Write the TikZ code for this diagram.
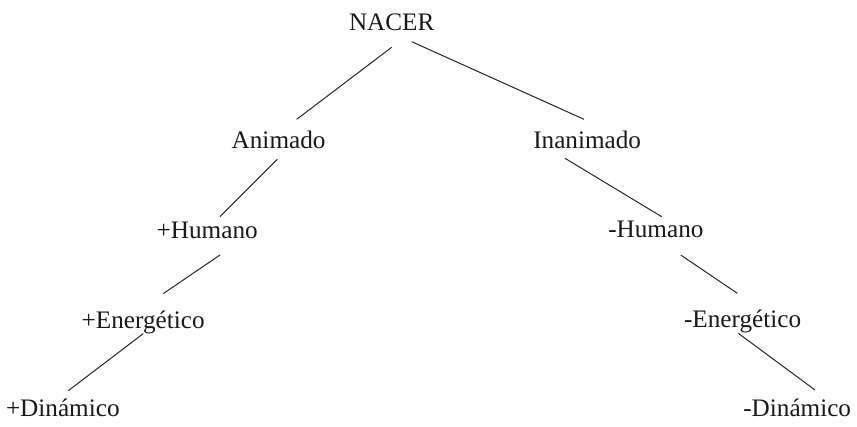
\documentclass[tikz,border=0pt]{standalone}
\usepackage{fontspec}
\setmainfont{Liberation Serif}
\usetikzlibrary{calc}
\begin{document}
\begin{tikzpicture}[x=1pt,y=1pt,
  lbl/.style={anchor=base west,inner sep=0pt,outer sep=0pt,font=\fontsize{25.2}{30}\selectfont,text=black!90},
  edge/.style={line width=1pt,draw=black!85}]
\useasboundingbox (0,0) rectangle (857,-427);
\node[lbl] (nacer) at (349,-30.7) {NACER};
\node[lbl] (animado) at (231.7,-148.3) {Animado};
\node[lbl] (inanimado) at (533.3,-148.3) {Inanimado};
\node[lbl] (humP) at (156.7,-238.3) {+Humano};
\node[lbl] (humM) at (608.3,-237.8) {-Humano};
\node[lbl] (eneP) at (81.7,-328.3) {+Energético};
\node[lbl] (eneM) at (684,-327.3) {-Energético};
\node[lbl] (dinP) at (6,-416.7) {+Dinámico};
\node[lbl] (dinM) at (743.3,-416.7) {-Dinámico};
\draw[edge] ($(nacer.base west)+(42.7,-16.6)$) -- ($(animado.base west)+(65,29)$);
\draw[edge] ($(nacer.base west)+(62.7,-11)$) -- ($(inanimado.base west)+(50.7,29)$);
\draw[edge] ($(animado.base west)+(45.6,-11)$) -- ($(humP.base west)+(63.3,21.6)$);
\draw[edge] ($(inanimado.base west)+(31.7,-10)$) -- ($(humM.base west)+(53.4,21.1)$);
\draw[edge] ($(humP.base west)+(63.3,-16.7)$) -- ($(eneP.base west)+(81.6,34.7)$);
\draw[edge] ($(humM.base west)+(72.4,-17.2)$) -- ($(eneM.base west)+(53.3,34)$);
\draw[edge] ($(eneP.base west)+(61.6,-5.3)$) -- ($(dinP.base west)+(62.3,26)$);
\draw[edge] ($(eneM.base west)+(54.3,-6)$) -- ($(dinM.base west)+(71.7,26.7)$);
\end{tikzpicture}
\end{document}
